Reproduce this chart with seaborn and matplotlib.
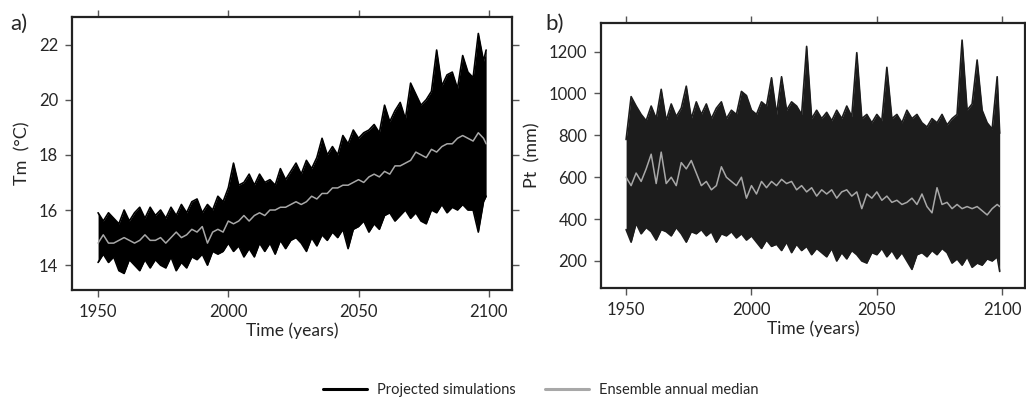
import numpy as np
import pandas as pd
import matplotlib.pyplot as plt
import seaborn as sns

# anos (amostragem a cada 2 anos + 2099)
anos = list(range(1950, 2099, 2)) + [2099]

# a) temperatura media (Tm)
tm_sup = [15.9, 15.6, 15.9, 15.7, 15.5, 16.0, 15.6, 15.9, 16.1, 15.7,
          16.1, 15.8, 16.0, 15.7, 16.1, 15.8, 16.2, 15.9, 16.3, 16.4,
          15.9, 16.2, 16.0, 16.5, 16.3, 16.8, 17.7, 16.9, 17.0, 17.3,
          16.9, 17.3, 17.0, 17.1, 16.9, 17.5, 17.1, 17.4, 17.7, 17.3,
          17.8, 17.5, 17.9, 18.6, 18.0, 18.3, 18.0, 18.7, 18.4, 18.9,
          18.6, 18.8, 18.9, 19.1, 18.8, 19.8, 19.2, 19.6, 19.9, 19.3,
          20.6, 20.2, 19.8, 20.0, 20.3, 21.8, 20.5, 20.9, 21.0, 20.4,
          21.6, 21.0, 20.8, 22.4, 21.4, 21.8]
tm_inf = [14.1, 14.4, 14.1, 14.3, 13.8, 13.7, 14.2, 14.0, 13.8, 14.2,
          13.9, 14.2, 14.0, 13.9, 14.3, 13.8, 14.1, 13.9, 14.3, 14.2,
          14.4, 14.0, 14.5, 14.4, 14.5, 14.8, 14.5, 14.7, 14.3, 14.6,
          14.3, 14.8, 14.5, 14.8, 14.4, 14.9, 14.6, 14.9, 15.0, 14.8,
          14.5, 15.0, 14.7, 15.1, 14.9, 15.2, 15.0, 15.3, 14.6, 15.3,
          15.4, 15.6, 15.2, 15.5, 15.3, 15.8, 15.9, 15.6, 15.8, 16.0,
          15.7, 15.9, 15.6, 15.5, 16.0, 15.9, 16.2, 15.9, 16.1, 16.0,
          16.2, 16.0, 16.0, 15.2, 16.3, 16.5]
tm_med = [14.8, 15.1, 14.8, 14.8, 14.9, 15.0, 14.9, 14.8, 14.9, 15.1,
          14.9, 14.9, 15.0, 14.8, 15.0, 15.2, 15.0, 15.1, 15.3, 15.2,
          15.4, 14.8, 15.2, 15.3, 15.2, 15.6, 15.5, 15.6, 15.8, 15.6,
          15.8, 15.9, 15.8, 16.0, 16.0, 16.1, 16.1, 16.2, 16.3, 16.2,
          16.3, 16.5, 16.4, 16.6, 16.6, 16.8, 16.8, 16.9, 16.9, 17.0,
          17.1, 17.0, 17.2, 17.3, 17.2, 17.4, 17.3, 17.6, 17.6, 17.7,
          17.8, 18.1, 18.0, 17.9, 18.2, 18.1, 18.3, 18.4, 18.4, 18.6,
          18.7, 18.6, 18.5, 18.8, 18.6, 18.4]

# b) precipitacao total (Pt)
pt_sup = [780, 985, 940, 900, 870, 940, 880, 1020, 870, 950,
          890, 930, 1035, 880, 960, 900, 950, 880, 930, 960,
          880, 920, 900, 1010, 990, 920, 900, 960, 940, 1075,
          900, 1080, 920, 960, 940, 900, 1225, 880, 920, 880,
          910, 870, 920, 880, 940, 890, 1195, 880, 900, 860,
          900, 870, 1125, 880, 900, 860, 920, 880, 900, 860,
          840, 880, 860, 900, 850, 880, 900, 1255, 920, 950,
          1160, 920, 860, 830, 1080, 810]
pt_inf = [350, 290, 380, 330, 360, 340, 300, 350, 340, 320,
          360, 330, 290, 340, 330, 350, 320, 340, 290, 330,
          320, 340, 310, 330, 300, 320, 290, 260, 300, 270,
          280, 250, 290, 240, 280, 250, 270, 230, 260, 240,
          220, 260, 200, 240, 210, 250, 230, 200, 190, 240,
          230, 260, 220, 250, 210, 240, 200, 160, 230, 240,
          220, 250, 230, 260, 240, 190, 210, 180, 220, 170,
          190, 180, 210, 200, 220, 150]
pt_med = [600, 560, 620, 580, 640, 710, 570, 720, 570, 600,
          560, 670, 640, 680, 620, 560, 580, 540, 560, 650,
          600, 580, 560, 600, 500, 560, 520, 580, 550, 580,
          560, 590, 570, 580, 540, 560, 530, 550, 510, 540,
          520, 540, 500, 530, 540, 510, 530, 450, 520, 500,
          530, 490, 510, 480, 490, 470, 480, 500, 470, 520,
          460, 430, 550, 470, 480, 450, 470, 450, 460, 450,
          460, 440, 420, 450, 470, 460]

df_a = pd.DataFrame({'ano': anos, 'sup': tm_sup, 'inf': tm_inf, 'med': tm_med})
df_b = pd.DataFrame({'ano': anos, 'sup': pt_sup, 'inf': pt_inf, 'med': pt_med})

sns.set_style('ticks')
plt.rcParams['font.family'] = ['Lato', 'DejaVu Sans']

fig = plt.figure(figsize=(10.26, 4.01), dpi=100)
ax1 = fig.add_axes([0.0702, 0.2768, 0.429, 0.681])
ax2 = fig.add_axes([0.5858, 0.2818, 0.413, 0.661])

paineis = [(ax1, df_a, 'black', 'Tm  (°C)', (13.1, 23.0), [14, 16, 18, 20, 22]),
           (ax2, df_b, '#1c1c1c', 'Pt  (mm)', (71, 1337), [200, 400, 600, 800, 1000, 1200])]

for ax, df, cor, rotulo, ylim, yticks in paineis:
    ax.fill_between(df['ano'], df['inf'], df['sup'], color=cor, lw=0)
    sns.lineplot(data=df, x='ano', y='sup', ax=ax, color=cor, lw=1.2)
    sns.lineplot(data=df, x='ano', y='inf', ax=ax, color=cor, lw=1.2)
    sns.lineplot(data=df, x='ano', y='med', ax=ax, color='#a8a8a8', lw=1.1)
    ax.set_xlim(1940, 2109)
    ax.set_ylim(*ylim)
    ax.set_xticks([1950, 2000, 2050, 2100])
    ax.set_yticks(yticks)
    ax.set_xlabel('Time (years)', fontsize=12.5, labelpad=2)
    ax.set_ylabel(rotulo, fontsize=13, labelpad=6)
    ax.tick_params(axis='both', labelsize=12, length=5, width=1, color='#555555',
                   top=True, right=True, direction='out', pad=5)
    for s in ax.spines.values():
        s.set_visible(True)
        s.set_linewidth(1.6)
        s.set_color('#222222')

fig.text(0.010, 0.925, 'a)', fontsize=16)
fig.text(0.532, 0.925, 'b)', fontsize=16)

h1 = plt.Line2D([], [], color='black', lw=2.2)
h2 = plt.Line2D([], [], color='#a8a8a8', lw=2.2)
fig.legend([h1, h2], ['Projected simulations', 'Ensemble annual median'],
           loc='center', bbox_to_anchor=(0.527, 0.027), ncol=2, frameon=False,
           fontsize=10.5, handlelength=3.0, handletextpad=0.7, columnspacing=2.0)

fig.savefig('out.png', dpi=100)
